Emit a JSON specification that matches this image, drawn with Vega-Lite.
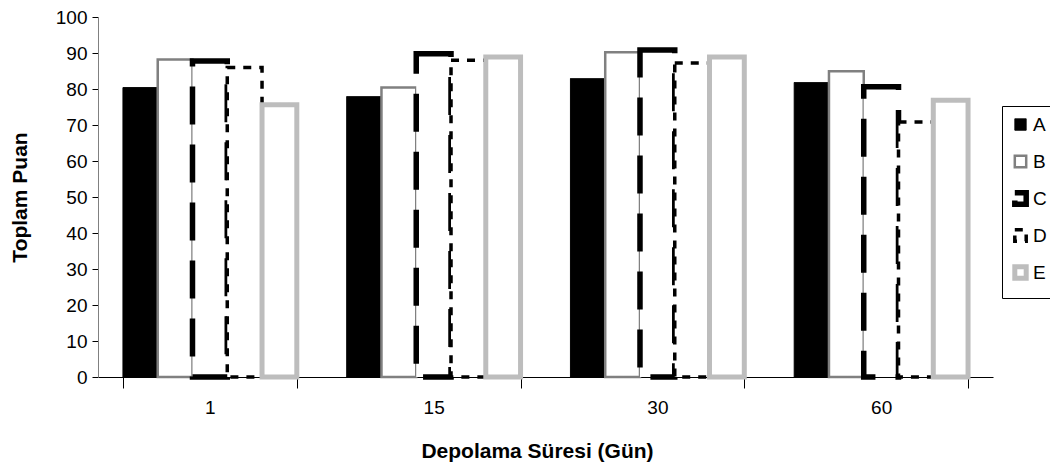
{
  "$schema": "https://vega.github.io/schema/vega-lite/v6.json",
  "autosize": {"type": "none"},
  "width": 895,
  "height": 360,
  "padding": {"left": 98, "top": 17, "right": 57, "bottom": 90},
  "background": "white",
  "config": {
    "view": {"stroke": null},
    "font": "Liberation Sans"
  },
  "data": {
    "values": [
      {"gun": "1", "seri": "A", "puan": 80.4},
      {"gun": "1", "seri": "B", "puan": 88.2},
      {"gun": "1", "seri": "C", "puan": 87.8},
      {"gun": "1", "seri": "D", "puan": 86.0},
      {"gun": "1", "seri": "E", "puan": 75.6},
      {"gun": "15", "seri": "A", "puan": 77.9},
      {"gun": "15", "seri": "B", "puan": 80.4},
      {"gun": "15", "seri": "C", "puan": 89.8},
      {"gun": "15", "seri": "D", "puan": 88.0},
      {"gun": "15", "seri": "E", "puan": 88.9},
      {"gun": "30", "seri": "A", "puan": 82.9},
      {"gun": "30", "seri": "B", "puan": 90.2},
      {"gun": "30", "seri": "C", "puan": 90.8},
      {"gun": "30", "seri": "D", "puan": 87.2},
      {"gun": "30", "seri": "E", "puan": 88.9},
      {"gun": "60", "seri": "A", "puan": 81.8},
      {"gun": "60", "seri": "B", "puan": 84.9},
      {"gun": "60", "seri": "C", "puan": 80.6},
      {"gun": "60", "seri": "D", "puan": 70.8},
      {"gun": "60", "seri": "E", "puan": 76.9}
    ]
  },
  "mark": {"type": "bar"},
  "encoding": {
    "x": {
      "field": "gun",
      "type": "ordinal",
      "sort": ["1", "15", "30", "60"],
      "scale": {"paddingInner": 0.223, "paddingOuter": 0.1115},
      "axis": {
        "title": "Depolama Süresi (Gün)",
        "titleFont": "Liberation Sans",
        "titleFontSize": 21,
        "titleFontWeight": "bold",
        "titleColor": "black",
        "titlePadding": 23,
        "titleX": 439,
        "labelAngle": 0,
        "labelFontSize": 19,
        "labelColor": "black",
        "labelPadding": 10,
        "tickBand": "extent",
        "tickSize": 11,
        "tickColor": "black",
        "domainColor": "black",
        "grid": false
      }
    },
    "xOffset": {
      "field": "seri",
      "type": "nominal",
      "sort": ["A", "B", "C", "D", "E"],
      "scale": {"paddingInner": 0, "paddingOuter": 0}
    },
    "y": {
      "field": "puan",
      "type": "quantitative",
      "scale": {"domain": [0, 100], "nice": false},
      "axis": {
        "title": "Toplam Puan",
        "titleFont": "Liberation Sans",
        "titleFontSize": 21,
        "titleFontWeight": "bold",
        "titleColor": "black",
        "titlePadding": 25,
        "values": [0, 10, 20, 30, 40, 50, 60, 70, 80, 90, 100],
        "labelFontSize": 19,
        "labelColor": "black",
        "labelPadding": 5,
        "tickSize": 6,
        "tickColor": "black",
        "domainColor": "#808080",
        "grid": false
      }
    },
    "fill": {
      "field": "seri",
      "type": "nominal",
      "scale": {"domain": ["A", "B", "C", "D", "E"], "range": ["black", "white", "white", "white", "white"]},
      "legend": {
        "title": null,
        "orient": "none",
        "legendX": 904,
        "legendY": 89,
        "strokeColor": "black",
        "padding": 9,
        "rowPadding": 2,
        "gridAlign": "all",
        "symbolType": "square",
        "symbolSize": 130,
        "labelFontSize": 19,
        "labelColor": "black",
        "labelOffset": 3,
        "fillColor": "white"
      }
    },
    "stroke": {
      "field": "seri",
      "type": "nominal",
      "scale": {"domain": ["A", "B", "C", "D", "E"], "range": ["black", "#808080", "black", "black", "#bdbdbd"]}
    },
    "strokeWidth": {
      "field": "seri",
      "type": "nominal",
      "scale": {"type": "ordinal", "domain": ["A", "B", "C", "D", "E"], "range": [1, 2.5, 5.5, 3.5, 5]}
    },
    "strokeDash": {
      "field": "seri",
      "type": "nominal",
      "scale": {"domain": ["A", "B", "C", "D", "E"], "range": [[1, 0], [1, 0], [38, 20], [8, 8], [1, 0]]}
    }
  }
}
